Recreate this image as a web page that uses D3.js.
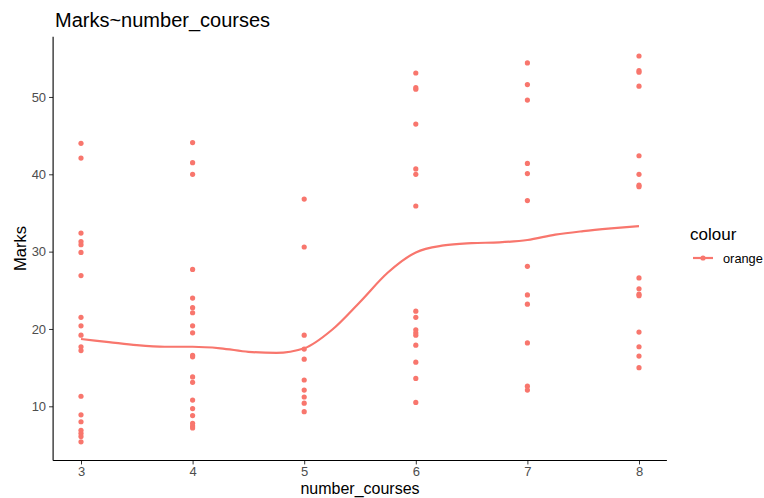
<!DOCTYPE html>
<html><head><meta charset="utf-8">
<script src="https://cdn.jsdelivr.net/npm/d3@7"></script>
<style>body{margin:0;background:#fff;}svg{display:block;font-family:Arial,"Liberation Sans",sans-serif;}</style>
</head><body>
<script>
const courses = [3,4,5,6,7,8];
const marks3 = [44.0,42.1,32.4,31.3,30.9,29.9,26.9,21.5,20.4,19.2,17.7,17.2,11.3,8.9,8.0,6.9,6.5,6.1,5.4];
const marks4 = [44.1,41.5,40.0,27.7,24.0,22.75,22.1,20.4,19.5,16.6,16.4,13.8,13.1,10.8,9.7,8.8,7.8,7.45,7.2];
const marks5 = [36.8,30.6,19.2,17.4,16.1,13.4,12.1,11.2,10.4,9.3];
const marks6 = [53.1,51.2,51.0,46.5,40.7,40.0,35.9,22.3,21.5,19.9,19.5,19.2,17.9,15.7,13.6,10.5];
const marks7 = [54.4,51.6,49.6,41.4,40.1,36.6,28.1,24.4,23.2,18.2,12.6,12.1];
const marks8 = [55.3,53.4,53.2,51.4,42.4,40.0,38.6,38.4,26.6,25.2,24.5,24.3,19.6,17.7,16.5,15.0];
const smoothX = [3,3.25,3.5,3.75,4,4.25,4.5,4.75,5,5.25,5.5,5.75,6,6.25,6.5,6.75,7,7.25,7.5,7.75,8];
const smoothY = [18.7,18.3,17.9,17.7,17.7,17.5,17.05,16.9,17.5,19.9,23.5,27.3,29.9,30.8,31.1,31.2,31.5,32.2,32.65,33.0,33.3];
const yTicks = [10,20,30,40,50];
const xTicks = [3,4,5,6,7,8];
const col = "#F8766D";

const W=764,H=498;
const svg=d3.select("body").append("svg").attr("width",W).attr("height",H);
const x=d3.scaleLinear().domain([2.75,8.25]).range([53.1,666.9]);
const y=d3.scaleLinear().domain([10,40]).range([406.3,174.3]);
const yBottom=y(3.0), yTop=y(57.8);

const allMarks=[marks3,marks4,marks5,marks6,marks7,marks8];
const pts=[];
allMarks.forEach((arr,i)=>arr.forEach(v=>pts.push({c:courses[i],v})));

// points
svg.append("g").selectAll("circle").data(pts).join("circle")
 .attr("cx",d=>x(d.c)).attr("cy",d=>y(d.v)).attr("r",2.6).attr("fill",col);

// smooth line
const line=d3.line().x((d,i)=>x(smoothX[i])).y(d=>y(d)).curve(d3.curveMonotoneX);
svg.append("path").datum(smoothY).attr("d",line).attr("fill","none").attr("stroke",col).attr("stroke-width",2.2);

// axes
const xAxis=d3.axisBottom(x).tickValues(xTicks).tickSize(4).tickPadding(2).tickFormat(d3.format("d"));
const yAxis=d3.axisLeft(y).tickValues(yTicks).tickSize(4).tickPadding(3).tickFormat(d3.format("d"));
const gx=svg.append("g").attr("transform",`translate(0,${yBottom})`).call(xAxis);
const gy=svg.append("g").attr("transform",`translate(${x(2.75)},0)`).call(yAxis);
[gx,gy].forEach(g=>{
  g.select(".domain").remove();
  g.selectAll(".tick line").attr("stroke","#333").attr("stroke-width",1);
  g.selectAll(".tick text").attr("fill","#4d4d4d").style("font-size","13px").style("font-family","Arial, 'Liberation Sans', sans-serif");
});
svg.append("line").attr("x1",x(2.75)).attr("x2",x(8.25)).attr("y1",yBottom).attr("y2",yBottom).attr("stroke","#000").attr("stroke-width",1.1);
svg.append("line").attr("x1",x(2.75)).attr("x2",x(2.75)).attr("y1",yTop).attr("y2",yBottom).attr("stroke","#000").attr("stroke-width",1.1);

// titles
svg.append("text").attr("x",55).attr("y",27).text("Marks~number_courses").style("font-size","20px").attr("fill","#000");
svg.append("text").attr("x",(x(2.75)+x(8.25))/2).attr("y",494).attr("text-anchor","middle").text("number_courses").style("font-size","16px").attr("fill","#000");
svg.append("text").attr("transform",`translate(26,${(yTop+yBottom)/2}) rotate(-90)`).attr("text-anchor","middle").text("Marks").style("font-size","16.5px").attr("fill","#000");

// legend
svg.append("text").attr("x",690).attr("y",240).text("colour").style("font-size","17px").attr("fill","#000");
svg.append("line").attr("x1",693).attr("x2",713).attr("y1",258).attr("y2",258).attr("stroke",col).attr("stroke-width",2.2);
svg.append("circle").attr("cx",703).attr("cy",258).attr("r",2.6).attr("fill",col);
svg.append("text").attr("x",723).attr("y",262.5).text("orange").style("font-size","12.8px").attr("fill","#000");
</script>
</body></html>
